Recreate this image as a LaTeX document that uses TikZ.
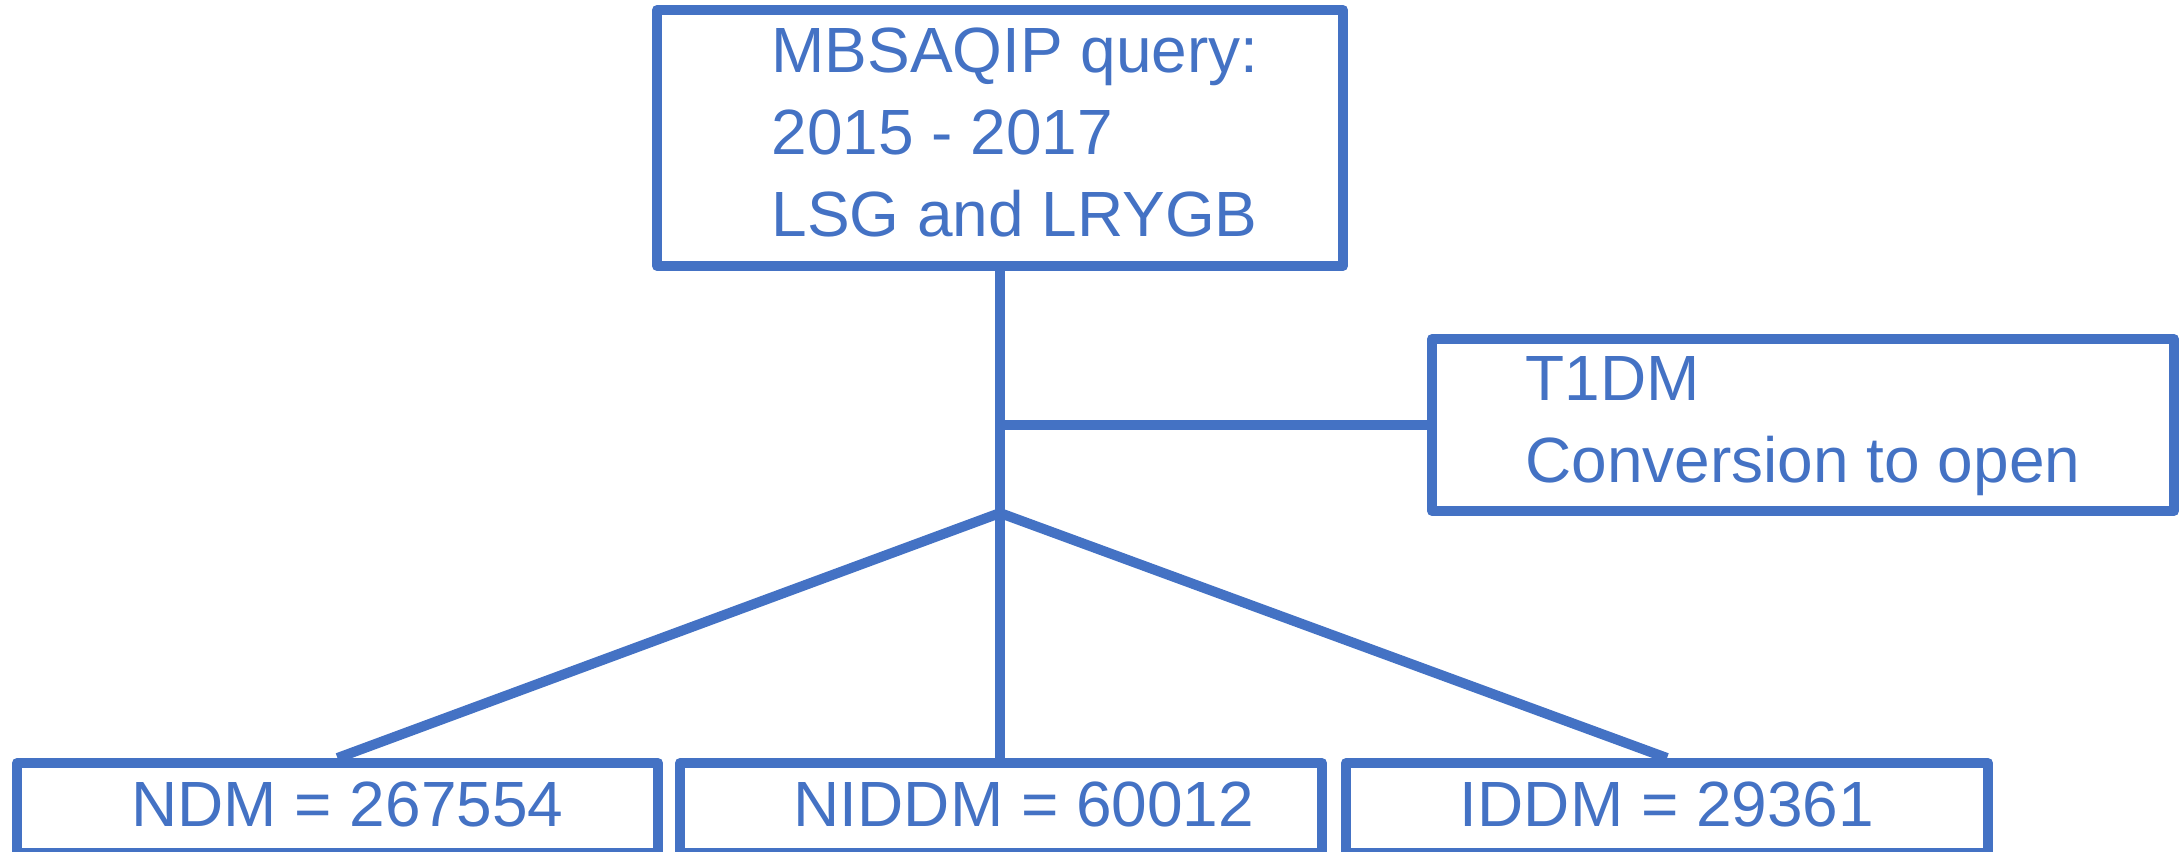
\documentclass[tikz,border=0pt]{standalone}
\usepackage{fontspec}
\setmainfont{Liberation Sans}

\definecolor{boxblue}{HTML}{4472C4}
\tikzset{
  flowbox/.style={draw=boxblue,line width=1mm,line join=round,text=boxblue,
    inner sep=0pt,font=\fontsize{18.2}{23.4}\selectfont},
  countbox/.style={flowbox,minimum width=6.42cm,minimum height=.9cm,text depth=.08cm},
  link/.style={draw=boxblue,line width=1mm,line join=round},
}

\begin{document}
\begin{tikzpicture}
  \useasboundingbox (0,0) rectangle (21.82,-8.52);
  % boxes
  \node[flowbox,minimum width=6.86cm,minimum height=2.56cm] (query) at (10,-1.38)
    {\hspace*{.3cm}\raisebox{-.04cm}{\begin{tabular}{@{}l@{}}MBSAQIP query:\\2015 - 2017\\LSG and LRYGB\end{tabular}}};
  \node[flowbox,minimum width=7.42cm,minimum height=1.72cm] (t1dm) at (18.03,-4.25)
    {\begin{tabular}{@{}l@{}}T1DM\\Conversion to open\end{tabular}};
  \node[countbox,minimum width=6.41cm] (ndm) at (3.375,-8.08) {\hspace*{.2cm}NDM = 267554};
  \node[countbox] (niddm) at (10.01,-8.08) {\hspace*{.46cm}NIDDM = 60012};
  \node[countbox] (iddm) at (16.67,-8.08) {IDDM = 29361};
  % connectors
  \coordinate (fork) at (10,-5.13);
  \draw[link] (query.south) -- (fork) -- (fork |- niddm.north);
  \draw[link] (query.south |- t1dm.west) -- (t1dm.west);
  \draw[link] (ndm.north) -- (fork) -- (iddm.north);
\end{tikzpicture}
\end{document}
